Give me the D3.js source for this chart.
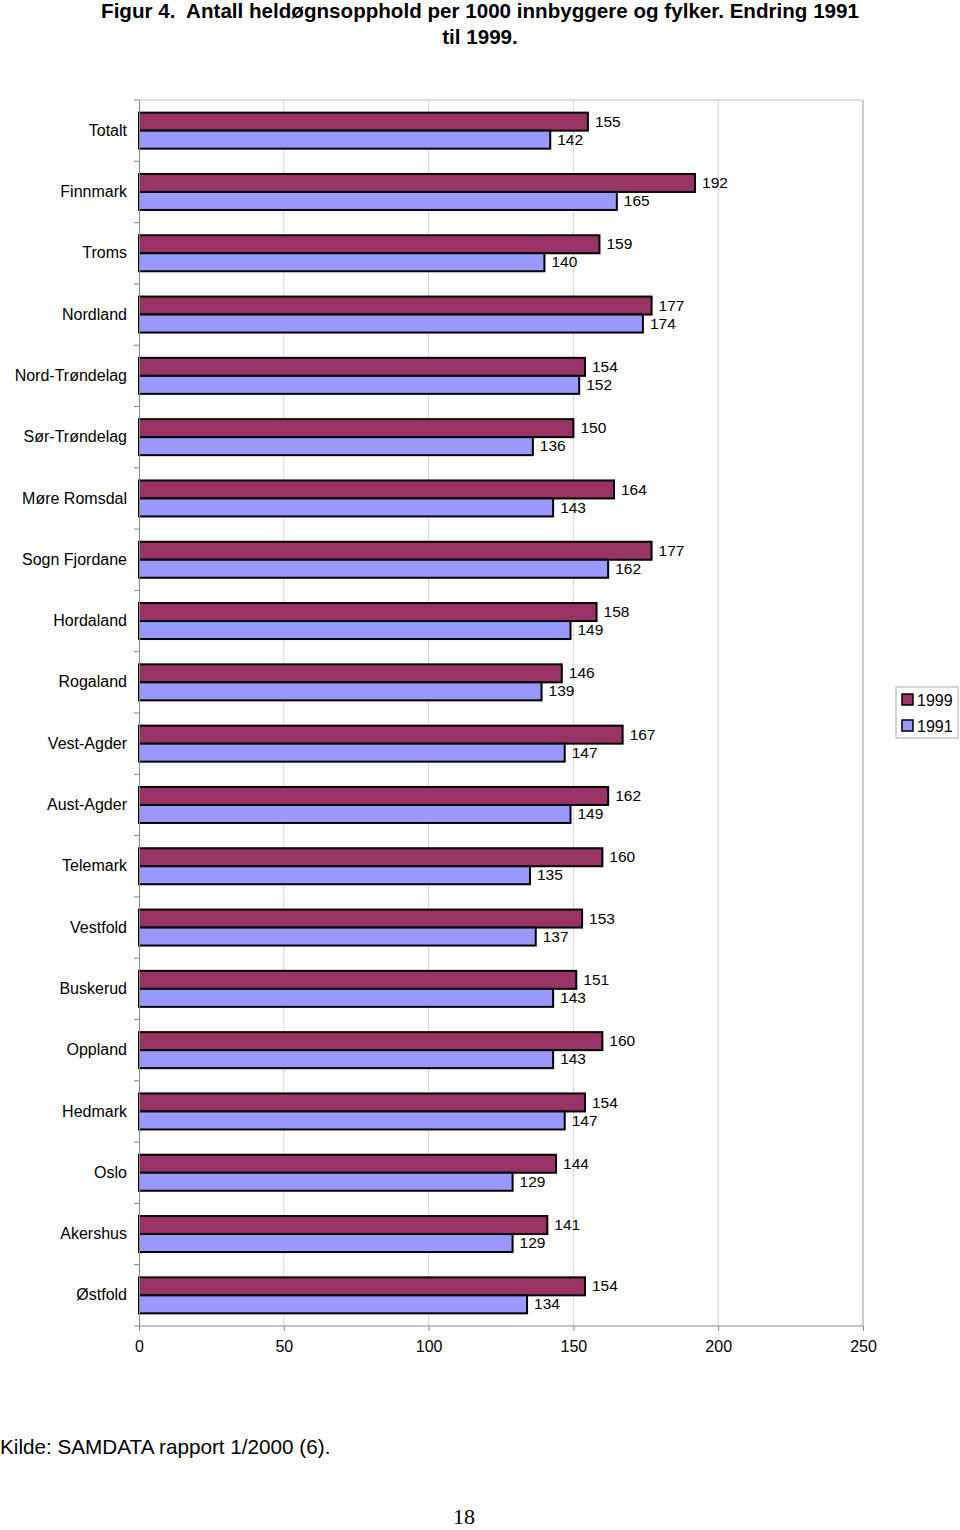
<!DOCTYPE html>
<html><head><meta charset="utf-8">
<script src="https://cdn.jsdelivr.net/npm/d3@7"></script>
<style>
body{margin:0;background:#fff;}
svg{display:block;font-family:Arial,"Liberation Sans",sans-serif;}
</style></head>
<body>
<svg id="chart" width="960" height="1530"></svg>
<script>
const categories = ["Totalt","Finnmark","Troms","Nordland","Nord-Trøndelag","Sør-Trøndelag","Møre Romsdal","Sogn Fjordane","Hordaland","Rogaland","Vest-Agder","Aust-Agder","Telemark","Vestfold","Buskerud","Oppland","Hedmark","Oslo","Akershus","Østfold"];
const values1999 = [155,192,159,177,154,150,164,177,158,146,167,162,160,153,151,160,154,144,141,154];
const values1991 = [142,165,140,174,152,136,143,162,149,139,147,149,135,137,143,143,147,129,129,134];
const seriesNames = ["1999","1991"];
const seriesColors = ["#993366","#9999FF"];
const xTicks = [0,50,100,150,200,250];
const titleLines = ["Figur 4.  Antall heldøgnsopphold per 1000 innbyggere og fylker. Endring 1991","til 1999."];
const source = "Kilde: SAMDATA rapport 1/2000 (6).";
const pageNumber = "18";

const svg = d3.select("#chart");
const mLeft = 139, mRight = 863, mTop = 100, mBottom = 1326;

const x = d3.scaleLinear().domain([0,250]).range([mLeft,mRight]);
const y = d3.scaleBand().domain(categories).range([mTop,mBottom]);
const inner = d3.scaleBand().domain(seriesNames).range([y.bandwidth()/2-18, y.bandwidth()/2+18]);

// title
svg.selectAll("text.title").data(titleLines).join("text")
  .attr("class","title")
  .attr("x",480).attr("y",(d,i)=>18+i*26)
  .attr("text-anchor","middle").attr("font-weight","bold")
  .style("white-space","pre")
  .attr("font-size",20.6).attr("fill","#000").text(d=>d);

// gridlines
svg.append("g").selectAll("line").data(xTicks.slice(1)).join("line")
  .attr("x1",d=>x(d)).attr("x2",d=>x(d)).attr("y1",mTop).attr("y2",mBottom)
  .attr("stroke",d=>d===250?"#999":"#d4d4d4").attr("stroke-width",1);
svg.append("line").attr("x1",mLeft).attr("x2",mRight).attr("y1",mTop).attr("y2",mTop)
  .attr("stroke","#bbb");

// bars
const rows = categories.map((c,i)=>({c, vals:[values1999[i],values1991[i]]}));
const g = svg.append("g").selectAll("g").data(rows).join("g")
  .attr("transform",d=>`translate(0,${y(d.c)})`);
g.selectAll("rect").data(d=>d.vals.map((v,j)=>({v,s:seriesNames[j],col:seriesColors[j]}))).join("rect")
  .attr("x",x(0)).attr("y",d=>inner(d.s)).attr("width",d=>x(d.v)-x(0)).attr("height",inner.bandwidth())
  .attr("fill",d=>d.col).attr("stroke","#000").attr("stroke-width",2);
g.selectAll("text").data(d=>d.vals.map((v,j)=>({v,s:seriesNames[j]}))).join("text")
  .attr("x",d=>x(d.v)+7).attr("y",d=>inner(d.s)+inner.bandwidth()/2)
  .attr("dy","0.33em").attr("font-size",15.5).attr("fill","#000").text(d=>d.v);

// axes
const yAxis = d3.axisLeft(y).tickSize(0).tickPadding(12);
const ya = svg.append("g").attr("transform",`translate(${mLeft},0)`).call(yAxis);
ya.select(".domain").attr("stroke","#888");
ya.selectAll("text").attr("font-size",16).attr("font-family","Arial,'Liberation Sans',sans-serif").attr("fill","#000");
// tick marks at band boundaries
const bounds = categories.map(c=>y(c)).concat([mBottom]);
svg.append("g").selectAll("line").data(bounds).join("line")
  .attr("x1",mLeft-5).attr("x2",mLeft).attr("y1",d=>d).attr("y2",d=>d).attr("stroke","#888");

const xAxis = d3.axisBottom(x).tickValues(xTicks).tickSize(5).tickPadding(10);
const xa = svg.append("g").attr("transform",`translate(0,${mBottom})`).call(xAxis);
xa.select(".domain").attr("stroke","#888").attr("d",`M${mLeft},0H${mRight}`);
xa.selectAll("line").attr("stroke","#888");
xa.selectAll("text").attr("font-size",16).attr("font-family","Arial,'Liberation Sans',sans-serif").attr("fill","#000");

// legend
const lg = svg.append("g").attr("transform","translate(896,687)");
lg.append("rect").attr("x",0).attr("y",0).attr("width",62).attr("height",51).attr("fill","#fff").attr("stroke","#aaa");
const li = lg.selectAll("g").data(seriesNames).join("g").attr("transform",(d,i)=>`translate(6,${7+i*26})`);
li.append("rect").attr("width",11).attr("height",11).attr("fill",(d,i)=>seriesColors[i]).attr("stroke","#000").attr("stroke-width",1.5);
li.append("text").attr("x",15).attr("y",6).attr("dy","0.36em").attr("font-size",16).text(d=>d);

// source
svg.append("text").attr("x",0).attr("y",1454).attr("font-size",20.7).text(source);
svg.append("text").attr("x",464).attr("y",1524).attr("text-anchor","middle")
  .attr("font-family","'Liberation Serif','Times New Roman',serif").attr("font-size",22).text(pageNumber);
</script>
</body></html>
